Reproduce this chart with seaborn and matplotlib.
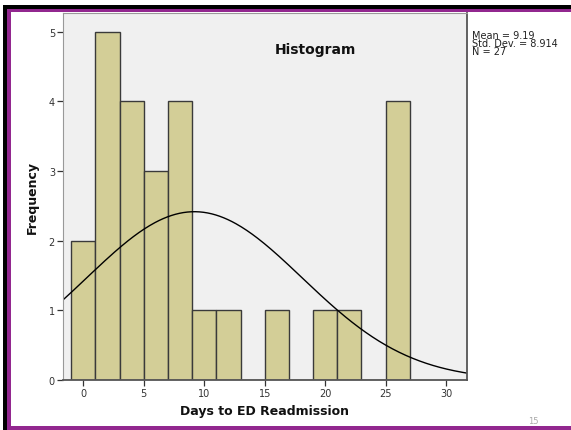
import matplotlib
matplotlib.use("Agg")
import matplotlib.pyplot as plt
from matplotlib.patches import Rectangle
import numpy as np
import pandas as pd
import seaborn as sns

# histogram: bins of width 2 starting at -1
bin_start = -1
bin_width = 2
counts = [2, 5, 4, 3, 4, 1, 1, 0, 1, 0, 1, 1, 0, 4]

# statistics printed beside the chart
mean = 9.19
std_dev = 8.914
n = 27

title = "Histogram"
x_label = "Days to ED Readmission"
y_label = "Frequency"
x_ticks = [0, 5, 10, 15, 20, 25, 30]
y_ticks = [0, 1, 2, 3, 4, 5]
page_number = "15"

edges = [bin_start + i * bin_width for i in range(len(counts) + 1)]
df = pd.DataFrame({
    "days": [bin_start + bin_width * (i + 0.5) for i in range(len(counts))],
    "count": counts,
})

sns.set_style("white")
plt.rcParams["font.family"] = ["DejaVu Sans"]

W, H = 571, 431
fig = plt.figure(figsize=(W / 100, H / 100), dpi=100)
fig.patch.set_facecolor("white")


def px(x0, y0, x1, y1, color):
    # rectangle in figure pixels measured from the top-left
    fig.patches.append(Rectangle((x0 / W, 1 - y1 / H), (x1 - x0) / W, (y1 - y0) / H,
                                 transform=fig.transFigure, facecolor=color,
                                 edgecolor="none", zorder=0))


# slide frame
px(3, 6, W, 10, "black")
px(3, 6, 7, H, "black")
px(7, 10, W, 12.5, "#92278f")
px(7, 10, 11, H, "#92278f")
px(7, 427, W, H, "#92278f")

ax = fig.add_axes([63.3 / W, 1 - 381 / H, (466.7 - 63.3) / W, (381 - 14) / H])
ax.set_facecolor("#f0f0f0")

sns.histplot(data=df, x="days", weights="count", bins=edges, ax=ax,
             color="#d3ce97", edgecolor="#3a3a3a", linewidth=1, alpha=1)

# fitted normal curve from the printed mean and std. dev.
xs = np.linspace(-1.65, 31.7, 300)
curve = n * bin_width * np.exp(-0.5 * ((xs - mean) / std_dev) ** 2) / (std_dev * np.sqrt(2 * np.pi))
sns.lineplot(x=xs, y=curve, ax=ax, color="black", linewidth=1)

ax.set_xlim(-1.65, 31.7)
ax.set_ylim(0, 5.27)
ax.set_xticks(x_ticks)
ax.set_yticks(y_ticks)
ax.tick_params(axis="both", direction="out", length=4.5, width=0.9, color="#333333",
               labelsize=7, labelcolor="#333333", pad=1.5)
ax.tick_params(axis="both", which="both", bottom=True, left=True)

for side in ["left", "top"]:
    ax.spines[side].set_color("#999999")
    ax.spines[side].set_linewidth(0.8)
for side in ["right", "bottom"]:
    ax.spines[side].set_color("#555555")
    ax.spines[side].set_linewidth(1.3)

ax.set_xlabel(x_label, fontsize=9, fontweight="bold", color="#111111")
ax.set_ylabel(y_label, fontsize=9, fontweight="bold", color="#111111")
ax.xaxis.set_label_coords(0.5, -0.065)
ax.yaxis.set_label_coords(-0.06, 0.5)

ax.text(0.624, 0.902, title, transform=ax.transAxes, ha="center", va="center",
        fontsize=10, fontweight="bold", color="#111111")

fig.text(472 / W, 1 - 31 / H,
         f"Mean = {mean}\nStd. Dev. = {std_dev}\nN = {n}",
         ha="left", va="top", fontsize=7, linespacing=0.72, color="#222222")

fig.text(533 / W, 1 - 426 / H, page_number, ha="center", va="bottom",
         fontsize=6, color="#aaaaaa")

fig.savefig("out.png", dpi=100)
